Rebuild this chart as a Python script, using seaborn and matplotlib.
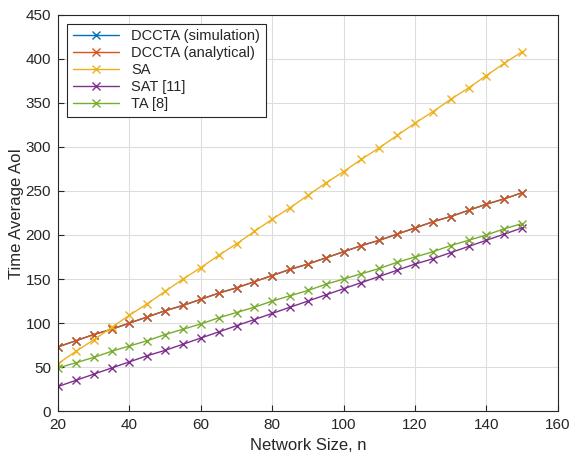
import pandas as pd
import seaborn as sns
import matplotlib.pyplot as plt

n = list(range(20, 155, 5))
dccta_sim = [73, 80, 87, 93, 100, 107, 114, 120, 127, 134, 140, 147, 154, 161,
             167, 174, 181, 188, 194, 201, 208, 215, 221, 228, 235, 241, 248]
dccta_ana = [73, 80, 87, 93, 100, 107, 114, 120, 127, 134, 140, 147, 154, 161,
             167, 174, 181, 188, 194, 201, 208, 215, 221, 228, 235, 241, 248]
sa = [54, 68, 81, 95, 109, 122, 136, 150, 163, 177, 190, 204, 218, 231,
      245, 259, 272, 286, 299, 313, 327, 340, 354, 367, 381, 395, 408]
sat = [28, 35, 42, 49, 56, 63, 69, 76, 83, 90, 97, 104, 111, 118,
       125, 132, 139, 146, 153, 160, 167, 173, 180, 187, 194, 201, 208]
ta = [49, 55, 61, 68, 74, 80, 87, 93, 99, 106, 112, 118, 125, 131,
      137, 144, 150, 156, 162, 169, 175, 181, 188, 194, 200, 207, 213]

labels = ["DCCTA (simulation)", "DCCTA (analytical)", "SA", "SAT [11]", "TA [8]"]
colors = ["#0072BD", "#D95319", "#EDB120", "#7E2F8E", "#77AC30"]
series = [dccta_sim, dccta_ana, sa, sat, ta]

sns.set_style("ticks")
plt.rcParams['font.family'] = ['Liberation Sans', 'DejaVu Sans']

fig = plt.figure(figsize=(5.81, 4.63), dpi=100)
ax = fig.add_axes([0.1, 0.112, 0.86, 0.856])

# one call per series so each marker gets its own edge colour
for lab, vals, c in zip(labels, series, colors):
    d = pd.DataFrame({"n": n, "aoi": vals})
    sns.lineplot(data=d, x="n", y="aoi", color=c, marker="x", markersize=5.5,
                 markeredgecolor=c, markeredgewidth=1, linewidth=1,
                 label=lab, ax=ax)

ax.set_xlim(20, 160)
ax.set_ylim(0, 450)
ax.set_xticks(range(20, 161, 20))
ax.set_yticks(range(0, 451, 50))
ax.grid(True, color="#dddddd", linewidth=0.8)
ax.set_axisbelow(True)
ax.tick_params(direction="in", labelsize=11, length=4, pad=5)
for s in ax.spines.values():
    s.set_visible(True)
    s.set_color("#262626")
    s.set_linewidth(0.8)
ax.set_xlabel("Network Size, n", fontsize=12)
ax.set_ylabel("Time Average AoI", fontsize=12, labelpad=1)

leg = ax.legend(loc="upper left", fontsize=10.5, fancybox=False, framealpha=1,
                edgecolor="#262626", borderaxespad=0.6, handlelength=3.2,
                labelspacing=0.2)
leg.get_frame().set_linewidth(0.8)

fig.savefig("out.png", dpi=100)
